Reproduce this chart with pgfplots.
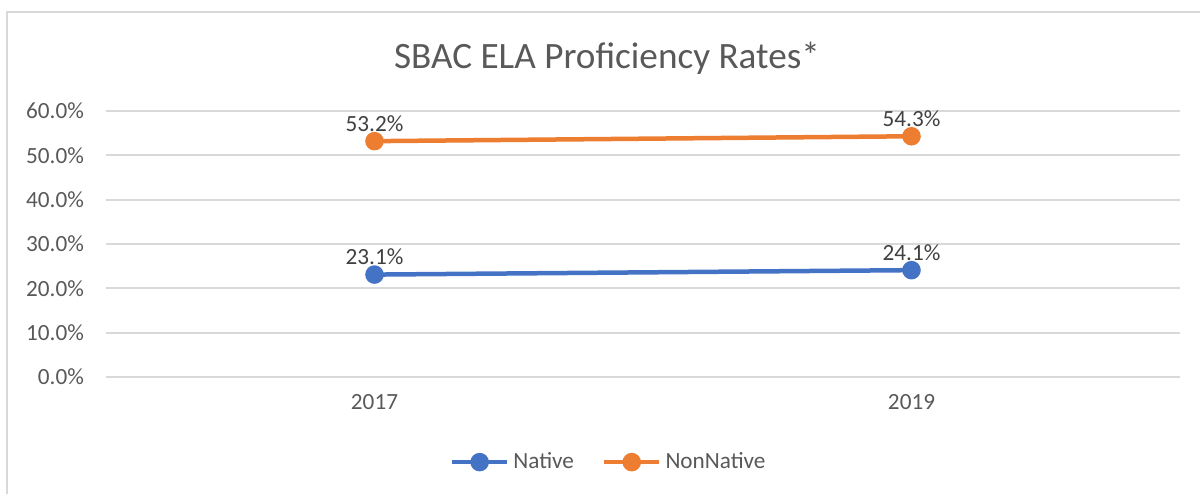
\documentclass[border=0pt]{standalone}
\usepackage{pgfplots}
\pgfplotsset{compat=1.18}
\usepackage{fontspec}
\setmainfont{Carlito}

\definecolor{xlblue}{HTML}{4472C4}
\definecolor{xlorange}{HTML}{ED7D31}
\definecolor{xlgrid}{HTML}{D9D9D9}
\definecolor{xltext}{HTML}{595959}
\definecolor{xllabel}{HTML}{404040}

\begin{document}
\begin{tikzpicture}
% page size: 1200x493 px at 0.5pt per px
\path[use as bounding box] (0,0) rectangle (600pt,246.5pt);
\draw[xlgrid, line width=1.2pt] (3.5pt,-1pt) -- (3.5pt,240.5pt) -- (601pt,240.5pt);

\node[text=xltext, font=\fontsize{18.6}{22}\selectfont] at (303.5pt,217.5pt) {SBAC ELA Proficiency Rates*};

\begin{axis}[
    at={(53pt,58pt)}, anchor=south west,
    scale only axis,
    width=537pt, height=133pt,
    xmin=-0.5, xmax=1.5,
    ymin=0, ymax=60,
    xtick={0,1}, xticklabels={2017,2019},
    ytick={0,10,...,60},
    ymajorgrids,
    major grid style={xlgrid, line width=0.9pt},
    axis line style={draw=none},
    tick style={draw=none},
    /pgf/number format/assume math mode=true,
    yticklabel={\pgfmathprintnumber[fixed,fixed zerofill,precision=1]{\tick}\%},
    ticklabel style={text=xltext, font=\fontsize{11.6}{13}\selectfont},
    yticklabel style={xshift=-7.5pt},
    xticklabel style={yshift=-5pt},
    nodes near coords={\pgfmathprintnumber[fixed,fixed zerofill,precision=1]{\pgfplotspointmeta}\%},
    every node near coord/.append style={text=xllabel, font=\fontsize{11.6}{13}\selectfont, anchor=south, yshift=0.5pt},
    legend style={at={(0.469,-0.32)}, anchor=center, draw=none, fill=none,
        legend columns=2, font=\fontsize{11.6}{13}\selectfont, text=xltext,
        /tikz/every even column/.append style={column sep=12pt},
        inner sep=0pt},
    legend image code/.code={
        \draw[#1, mark=none] (0pt,0pt) -- (27.5pt,0pt);
        \draw[#1] plot coordinates {(13.75pt,0pt)};
    },
    clip=false,
]
\addplot[xlblue, line width=2.25pt, mark=*, mark size=3.5pt] coordinates {(0,23.1) (1,24.1)};
\addlegendentry{Native}
\addplot[xlorange, line width=2.25pt, mark=*, mark size=3.5pt] coordinates {(0,53.2) (1,54.3)};
\addlegendentry{NonNative}
\end{axis}
\end{tikzpicture}
\end{document}
